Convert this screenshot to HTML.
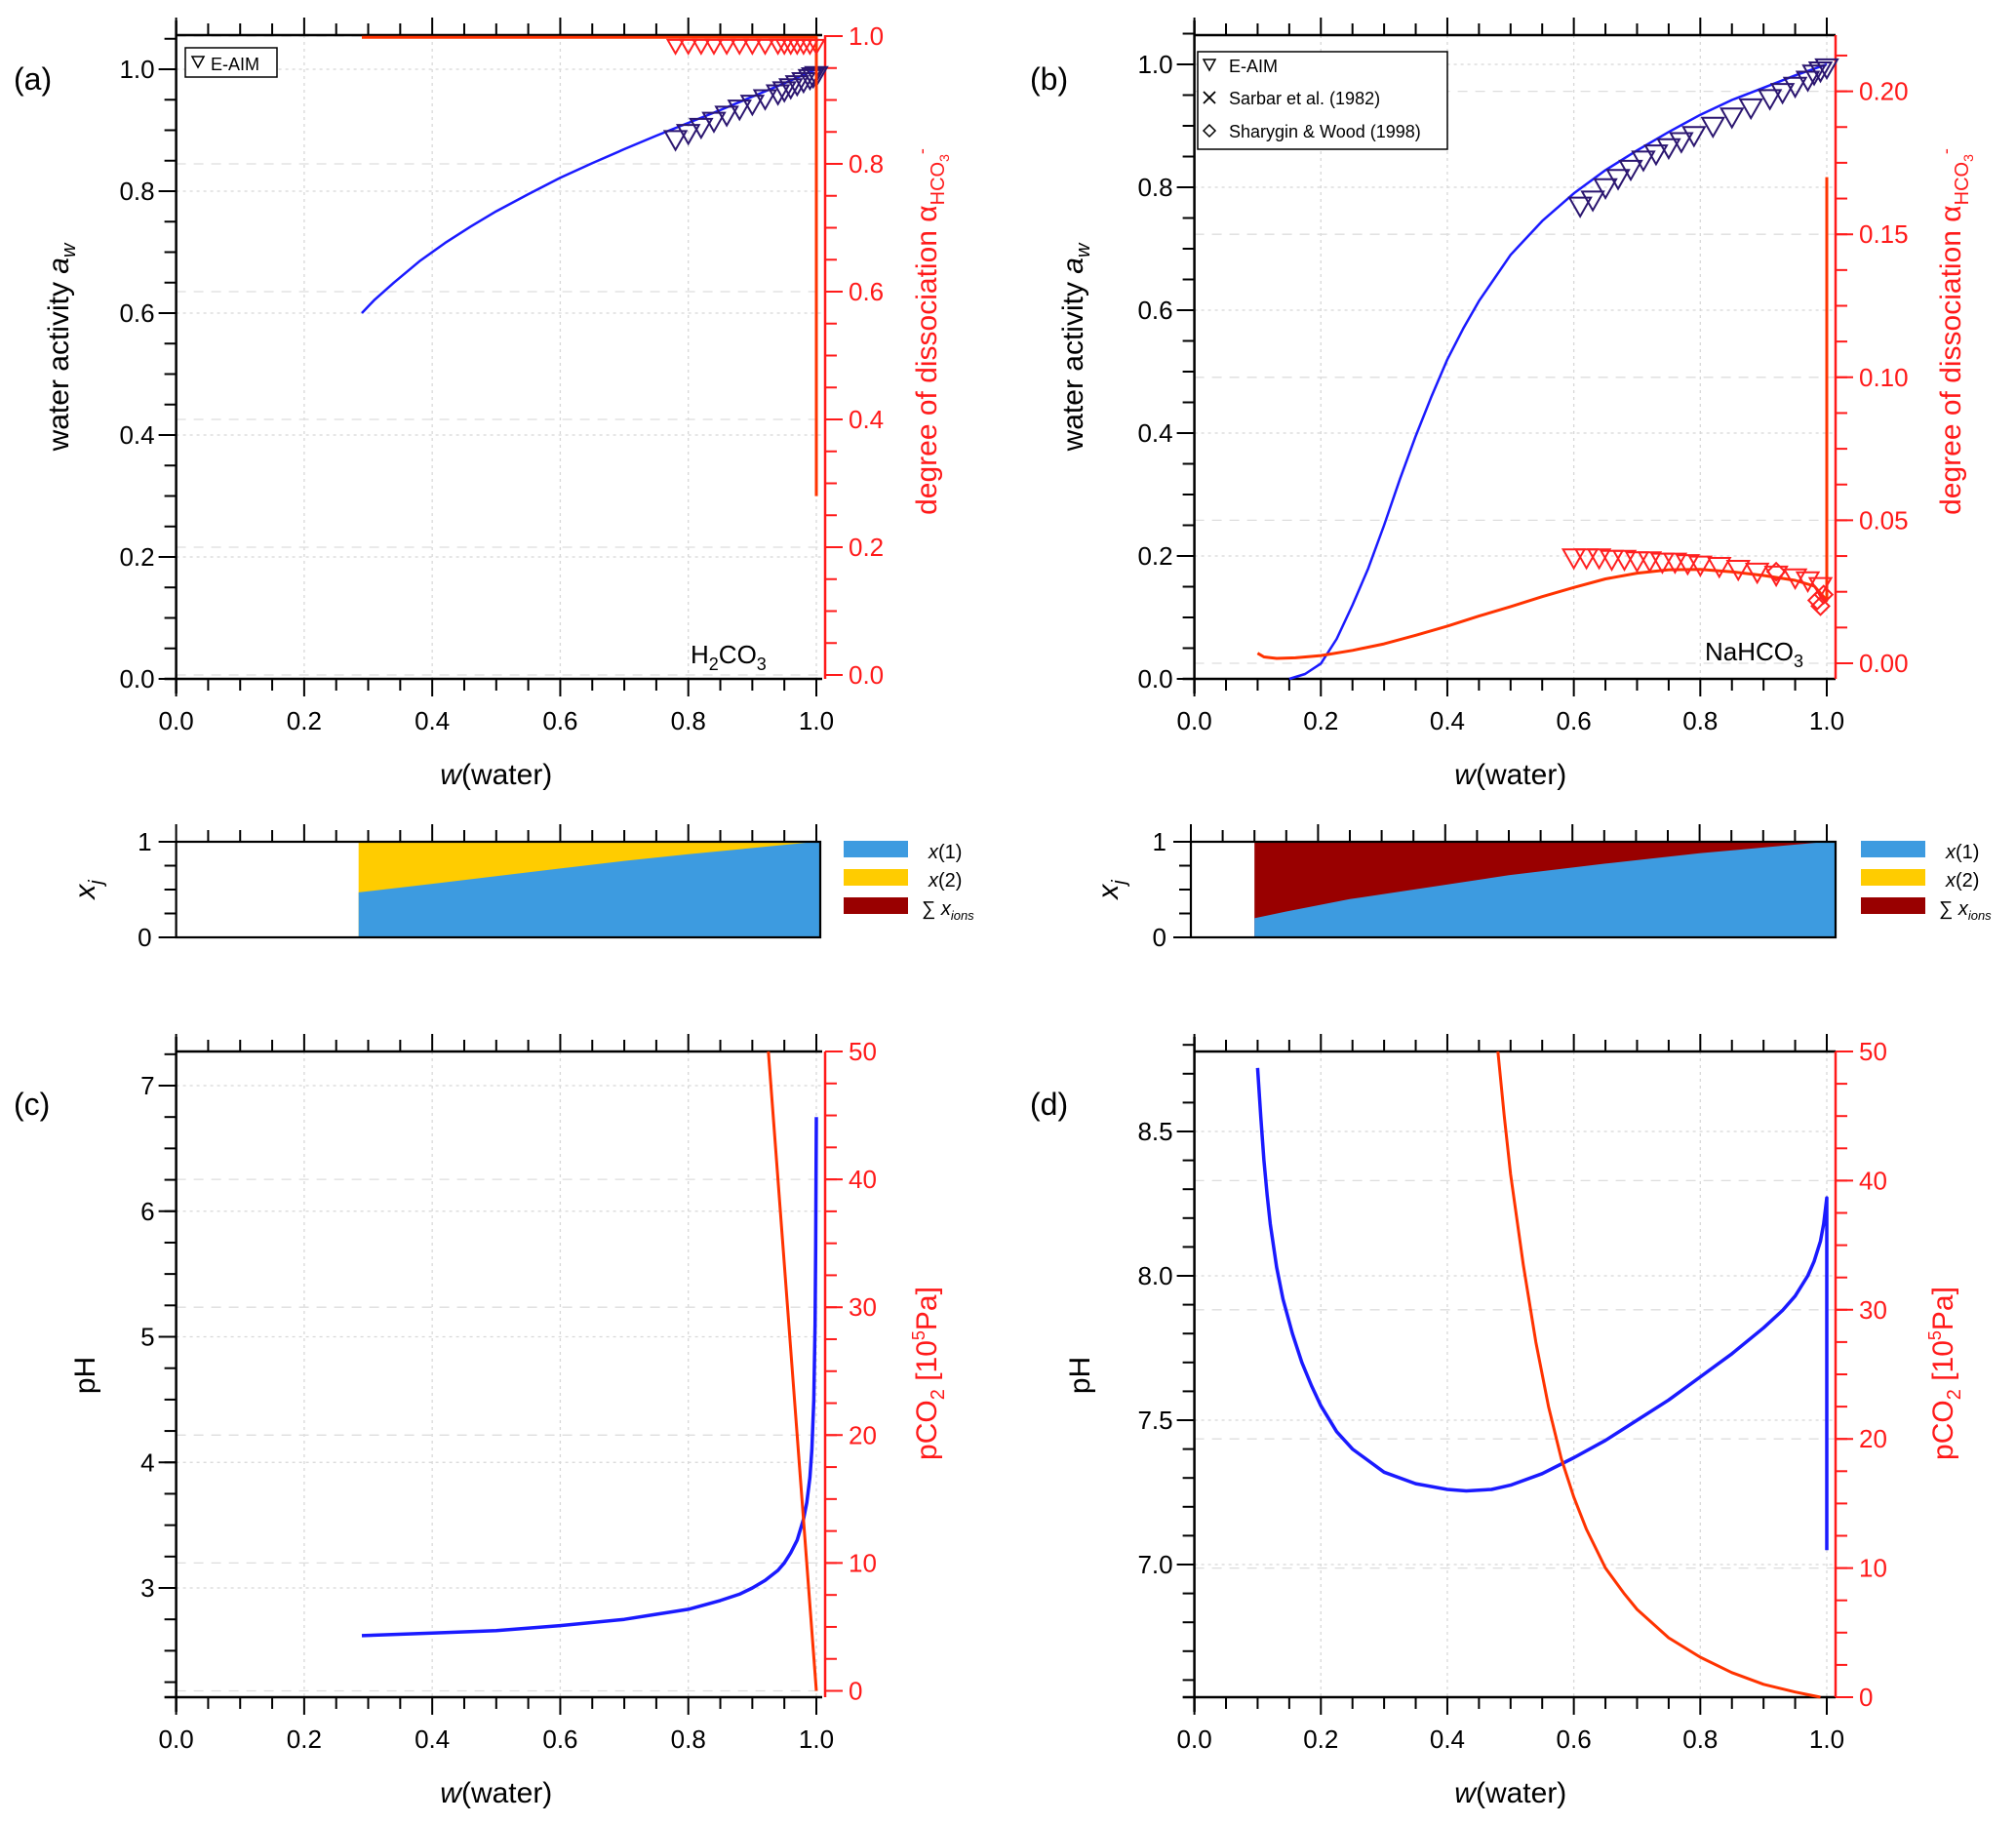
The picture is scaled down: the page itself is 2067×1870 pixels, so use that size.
<!DOCTYPE html>
<html><head><meta charset="utf-8"><style>
html,body{margin:0;padding:0;background:#fff}
svg{display:block}
text{font-family:"Liberation Sans",Arial,sans-serif}
</style></head><body>
<svg id="fig" width="2067" height="1870" viewBox="0 0 2067 1870" xmlns="http://www.w3.org/2000/svg"></svg>
<script>
// ---------- data ----------
const aW = [0.29,0.31,0.34,0.38,0.42,0.46,0.5,0.55,0.6,0.65,0.7,0.75,0.8,0.85,0.9,0.95,1.0];
const aAw = [0.60,0.622,0.65,0.685,0.715,0.742,0.767,0.795,0.822,0.846,0.869,0.891,0.912,0.933,0.955,0.977,1.0];
const aPtsW = [0.78,0.8,0.82,0.84,0.86,0.88,0.9,0.92,0.94,0.95,0.96,0.97,0.98,0.99,0.995,1.0];
const aPtsAw = [0.895,0.905,0.915,0.925,0.935,0.945,0.953,0.962,0.97,0.975,0.98,0.985,0.99,0.995,0.998,1.0];
const aAlphaW = [0.29,1.0,1.0];
const aAlpha = [0.998,0.998,0.28];
const aAlphaPtsW = [0.78,0.8,0.82,0.84,0.86,0.88,0.9,0.92,0.94,0.95,0.96,0.97,0.98,0.99,1.0];
const aAlphaPts = [0.985,0.985,0.985,0.985,0.985,0.985,0.985,0.985,0.985,0.985,0.985,0.985,0.985,0.985,0.985];

const bW = [0.15,0.175,0.2,0.225,0.25,0.275,0.3,0.325,0.35,0.375,0.4,0.425,0.45,0.5,0.55,0.6,0.65,0.7,0.75,0.8,0.85,0.9,0.95,1.0];
const bAw = [0.0,0.008,0.025,0.065,0.12,0.18,0.25,0.325,0.395,0.46,0.52,0.57,0.615,0.69,0.745,0.79,0.828,0.86,0.89,0.918,0.942,0.962,0.982,1.0];
const bPtsW = [0.61,0.63,0.65,0.67,0.69,0.71,0.73,0.75,0.77,0.79,0.82,0.85,0.88,0.91,0.93,0.95,0.97,0.98,0.99,1.0];
const bPtsAw = [0.77,0.78,0.80,0.815,0.83,0.845,0.855,0.865,0.875,0.885,0.90,0.915,0.93,0.945,0.955,0.965,0.975,0.985,0.99,0.995];
const bAlphaW = [0.1,0.11,0.13,0.16,0.2,0.25,0.3,0.35,0.4,0.45,0.5,0.55,0.6,0.65,0.7,0.75,0.8,0.85,0.9,0.95,0.98,1.0,1.0];
const bAlpha = [0.0035,0.0022,0.0017,0.0019,0.0027,0.0045,0.0068,0.0098,0.013,0.0165,0.0198,0.0233,0.0265,0.0295,0.0315,0.0327,0.0328,0.032,0.0307,0.029,0.027,0.022,0.17];
const bAlphaPtsW = [0.6,0.62,0.64,0.66,0.68,0.7,0.72,0.74,0.76,0.78,0.8,0.83,0.86,0.89,0.92,0.95,0.97,0.99];
const bAlphaPts = [0.037,0.037,0.037,0.0365,0.0365,0.036,0.036,0.0355,0.0355,0.035,0.0345,0.034,0.033,0.032,0.031,0.03,0.029,0.027];
const bDiaW = [0.92,0.985,0.99,0.995];
const bDiaAlpha = [0.032,0.022,0.02,0.024];

const sAW = [0.285,0.4,0.5,0.6,0.7,0.8,0.9,1.0];
const sAx1 = [0.47,0.56,0.64,0.72,0.8,0.87,0.935,1.0];
const sBW = [0.1,0.15,0.25,0.4,0.5,0.65,0.8,0.9,1.0];
const sBx1 = [0.2,0.27,0.4,0.55,0.65,0.77,0.88,0.94,1.0];

const cW = [0.29,0.4,0.5,0.6,0.7,0.75,0.8,0.85,0.88,0.9,0.92,0.94,0.95,0.96,0.97,0.98,0.985,0.99,0.993,0.996,0.998,0.999,1.0];
const cPH = [2.62,2.64,2.66,2.70,2.75,2.79,2.83,2.9,2.95,3.0,3.06,3.14,3.2,3.28,3.38,3.55,3.68,3.88,4.1,4.5,5.1,5.7,6.75];
const cPW = [0.925,1.0];
const cP = [50,0];

const dW = [0.1,0.105,0.11,0.115,0.12,0.13,0.14,0.155,0.17,0.185,0.2,0.225,0.25,0.3,0.35,0.4,0.43,0.47,0.5,0.55,0.6,0.65,0.7,0.75,0.8,0.85,0.9,0.93,0.95,0.97,0.98,0.99,0.995,1.0,1.0];
const dPH = [8.72,8.55,8.4,8.28,8.18,8.03,7.92,7.8,7.7,7.62,7.55,7.46,7.4,7.32,7.28,7.26,7.255,7.26,7.275,7.315,7.37,7.43,7.5,7.57,7.65,7.73,7.82,7.88,7.93,8.0,8.05,8.12,8.18,8.27,7.05];
const dPW = [0.48,0.49,0.5,0.52,0.54,0.56,0.58,0.6,0.62,0.65,0.68,0.7,0.75,0.8,0.85,0.9,0.95,0.99];
const dP = [50,45,40.5,33.5,27.5,22.5,18.5,15.5,13,10,8,6.8,4.6,3.1,1.9,1.0,0.4,0];

// ---------- helpers ----------
const svg = document.getElementById('fig');
const NS = 'http://www.w3.org/2000/svg';
function el(tag, attrs, parent){const e=document.createElementNS(NS,tag);for(const k in attrs)e.setAttribute(k,attrs[k]);(parent||svg).appendChild(e);return e;}
function lin(d0,d1,r0,r1){return v=>r0+(v-d0)*(r1-r0)/(d1-d0);}
function fmt(v,dec){return v.toFixed(dec);}
function txt(x,y,s,size,anchor,color,parent){const t=el('text',{x:x,y:y,'font-size':size,'text-anchor':anchor||'middle',fill:color||'#000'},parent);t.textContent=s;return t;}

function drawPanel(p){
  const g=el('g',{});
  
  
  const X=lin(0,1,p.x0,p.x1);
  const L=p.L, R=p.R;
  for(let v=0;v<=1.0001;v+=0.2){el('line',{x1:X(v),x2:X(v),y1:p.top,y2:p.bot,stroke:'#d8d8d8','stroke-width':1.3,'stroke-dasharray':'3,4'},g);}
  p.lMaj.forEach(v=>el('line',{x1:p.left,x2:p.right,y1:L(v),y2:L(v),stroke:'#d8d8d8','stroke-width':1.3,'stroke-dasharray':'3,4'},g));
  if(R) p.rMaj.forEach(v=>el('line',{x1:p.left,x2:p.right,y1:R(v),y2:R(v),stroke:'#dedede','stroke-width':1.3,'stroke-dasharray':'10,8'},g));
  el('line',{x1:p.left,x2:p.right,y1:p.top,y2:p.top,stroke:'#000','stroke-width':2.5},g);
  el('line',{x1:p.left-12,x2:p.right,y1:p.bot,y2:p.bot,stroke:'#000','stroke-width':2.5},g);
  el('line',{x1:p.left,x2:p.left,y1:p.top-15,y2:p.bot+15,stroke:'#000','stroke-width':2.5},g);
  for(let i=0;i<=20;i++){const v=i*0.05,x=X(v),maj=i%4==0;
    el('line',{x1:x,x2:x,y1:p.bot,y2:p.bot+(maj?18:12),stroke:'#000','stroke-width':2},g);
    el('line',{x1:x,x2:x,y1:p.top,y2:p.top-(maj?18:12),stroke:'#000','stroke-width':2},g);
    if(maj&&p.xlabels) txt(x,p.bot+52,fmt(v,1),26,'middle','#000',g);}
  p.lMin.forEach(v=>el('line',{x1:p.left,x2:p.left-12,y1:L(v),y2:L(v),stroke:'#000','stroke-width':2},g));
  p.lMaj.forEach(v=>{el('line',{x1:p.left,x2:p.left-18,y1:L(v),y2:L(v),stroke:'#000','stroke-width':2},g);txt(p.left-22,L(v)+9,fmt(v,p.lDec),26,'end','#000',g);});
  if(R){
    el('line',{x1:p.rx,x2:p.rx,y1:p.top,y2:p.bot,stroke:'#ff1a1a','stroke-width':2.5},g);
    p.rMin.forEach(v=>el('line',{x1:p.rx,x2:p.rx+12,y1:R(v),y2:R(v),stroke:'#ff1a1a','stroke-width':2},g));
    p.rMaj.forEach(v=>{el('line',{x1:p.rx,x2:p.rx+18,y1:R(v),y2:R(v),stroke:'#ff1a1a','stroke-width':2},g);txt(p.rx+24,R(v)+9,fmt(v,p.rDec),26,'start','#ff1a1a',g);});
  } else {
    el('line',{x1:p.right,x2:p.right,y1:p.top,y2:p.bot,stroke:'#000','stroke-width':2.5},g);
  }
  if(p.xlabels){const t=el('text',{x:(p.x0+p.x1)/2,y:p.bot+108,'font-size':30,'text-anchor':'middle'},g);t.innerHTML='<tspan font-style="italic">w</tspan>(water)';
    }
  return {g,X};
}
function range(a,b,s){const r=[];for(let v=a;v<=b+1e-9;v+=s)r.push(+v.toFixed(6));return r;}
function polyline(xs,ys,X,Y,color,w,parent,name){
  const pts=xs.map((x,i)=>X(x).toFixed(1)+','+Y(ys[i]).toFixed(1)).join(' ');
  const l=el('polyline',{points:pts,fill:'none',stroke:color,'stroke-width':w,'stroke-linejoin':'round'},parent);
  return l;
}
function tri(x,y,s,color,parent,name){
  const t=el('path',{d:`M${x-s},${y-s*0.75} L${x+s},${y-s*0.75} L${x},${y+s*1.0} Z`,fill:'none',stroke:color,'stroke-width':2},parent);
  
}
function rotTitle(x,y,html,color,name){
  const t=el('text',{x:0,y:0,'font-size':30,'text-anchor':'middle',fill:color,transform:`translate(${x},${y}) rotate(-90)`});
  t.innerHTML=html;return t;
}

// ---------- panel a ----------
(function(){
  const L=lin(0,1,696,71), R=lin(0,1,692,37);
  const p={name:'panel-a',x0:180.6,x1:837,left:180.6,right:843,top:36,bot:696,L,R,rx:846,
    lMaj:range(0,1,0.2),lMin:range(0,1.05,0.05),lDec:1,rMaj:range(0,1,0.2),rMin:range(0,1,0.05),rDec:1,xlabels:true};
  const {g,X}=drawPanel(p);
  polyline(aW,aAw,X,L,'#1a1aff',2.5,g,'aw-curve');
  aPtsW.forEach((w,i)=>tri(X(w),L(aPtsAw[i])+6,11,'#2b1670',g,'e-aim-point'));
  polyline(aAlphaW,aAlpha,X,R,'#ff3300',3,g,'alpha-curve');
  aAlphaPtsW.forEach((w,i)=>tri(X(w),R(aAlphaPts[i]),8,'#ff2020',g,'alpha-e-aim-point'));
  const lg=el('g',{});
  el('rect',{x:190,y:49,width:94,height:30,fill:'#fff',stroke:'#000','stroke-width':1.5},lg);
  el('path',{d:'M197,58 L209,58 L203,69 Z',fill:'none',stroke:'#000','stroke-width':1.5},lg);
  txt(216,72,'E-AIM',18,'start','#000',lg);
  const t=el('text',{x:708,y:680,'font-size':26,'text-anchor':'start'},g);t.innerHTML='H<tspan font-size="18" dy="7">2</tspan><tspan dy="-7">CO</tspan><tspan font-size="18" dy="7">3</tspan>';
  txt(14,92,'(a)',32,'start');
  rotTitle(70,356,'water activity <tspan font-style="italic">a</tspan><tspan font-style="italic" font-size="20" dy="7">w</tspan>','#000','y-axis-title');
  rotTitle(960,340,'degree of dissociation  α<tspan font-size="20" dy="8">HCO</tspan><tspan font-size="14" dy="5">3</tspan><tspan font-size="18" dy="-22">-</tspan>','#ff1a1a','y2-axis-title');
})();

// ---------- panel b ----------
(function(){
  const L=lin(0,1,696,66), R=lin(0,0.2,680,93.6);
  const p={name:'panel-b',x0:1224.6,x1:1873,left:1224.6,right:1882,top:36,bot:696,L,R,rx:1882,
    lMaj:range(0,1,0.2),lMin:range(0,1.05,0.05),lDec:1,rMaj:range(0,0.2,0.05),rMin:range(0,0.2125,0.0125),rDec:2,xlabels:true};
  const {g,X}=drawPanel(p);
  polyline(bW,bAw,X,L,'#1a1aff',2.5,g,'aw-curve');
  bPtsW.forEach((w,i)=>tri(X(w),L(bPtsAw[i]),11,'#2b1670',g,'e-aim-point'));
  polyline(bAlphaW,bAlpha,X,R,'#ff3300',3,g,'alpha-curve');
  bAlphaPtsW.forEach((w,i)=>tri(X(w),R(bAlphaPts[i]),11,'#ff2020',g,'alpha-e-aim-point'));
  bDiaW.forEach((w,i)=>{const x=X(w),y=R(bDiaAlpha[i]);const d=el('path',{d:`M${x},${y-9} L${x+9},${y} L${x},${y+9} L${x-9},${y} Z`,fill:'none',stroke:'#ff2020','stroke-width':2},g);
    });
  const lg=el('g',{});
  el('rect',{x:1228,y:53,width:256,height:100,fill:'#fff',stroke:'#000','stroke-width':1.5},lg);
  el('path',{d:'M1234,61 L1246,61 L1240,72 Z',fill:'none',stroke:'#000','stroke-width':1.5},lg);
  txt(1260,74,'E-AIM',18,'start','#000',lg);
  el('path',{d:'M1234,94 L1246,106 M1246,94 L1234,106',stroke:'#000','stroke-width':1.8},lg);
  txt(1260,107,'Sarbar et al. (1982)',18,'start','#000',lg);
  el('path',{d:'M1240,128 L1246,134 L1240,140 L1234,134 Z',fill:'none',stroke:'#000','stroke-width':1.5},lg);
  txt(1260,141,'Sharygin & Wood (1998)',18,'start','#000',lg);
  const t=el('text',{x:1748,y:677,'font-size':26,'text-anchor':'start'},g);t.innerHTML='NaHCO<tspan font-size="18" dy="7">3</tspan>';
  txt(1056,92,'(b)',32,'start');
  rotTitle(1110,356,'water activity <tspan font-style="italic">a</tspan><tspan font-style="italic" font-size="20" dy="7">w</tspan>','#000','y-axis-title');
  rotTitle(2010,340,'degree of dissociation  α<tspan font-size="20" dy="8">HCO</tspan><tspan font-size="14" dy="5">3</tspan><tspan font-size="18" dy="-22">-</tspan>','#ff1a1a','y2-axis-title');
})();

// ---------- small stacked panels ----------
function smallPanel(name,x0,x1,right,ws,x1s,topColor,lx,labelX){
  const g=el('g',{});
  const X=lin(0,1,x0,x1), Y=lin(0,1,961,863);
  const top=863,bot=961;
  const first=X(ws[0]);
  el('rect',{x:first,y:top,width:right-first,height:bot-top,fill:topColor},g);
  let pts=ws.map((w,i)=>X(w).toFixed(1)+','+Y(x1s[i]).toFixed(1)).join(' ');
  pts+=' '+right+','+Y(1)+' '+right+','+bot+' '+first.toFixed(1)+','+bot;
  const b=el('polygon',{points:pts,fill:'#3d9be0'},g);
  
  el('rect',{x:x0,y:top,width:right-x0,height:bot-top,fill:'none',stroke:'#000','stroke-width':2.2},g);
  for(let i=0;i<=20;i++){const x=X(i*0.05),maj=i%4==0;el('line',{x1:x,x2:x,y1:top,y2:top-(maj?18:12),stroke:'#000','stroke-width':2},g);}
  [0,0.25,0.5,0.75,1].forEach(v=>el('line',{x1:x0,x2:x0-((v==0||v==1)?18:12),y1:Y(v),y2:Y(v),stroke:'#000','stroke-width':2},g));
  txt(x0-25,Y(1)+9,'1',26,'end','#000',g);txt(x0-25,Y(0)+9,'0',26,'end','#000',g);
  const t=el('text',{x:0,y:0,'font-size':30,'text-anchor':'middle',transform:`translate(${labelX},912) rotate(-90)`},g);
  t.innerHTML='<tspan font-style="italic">x</tspan><tspan font-style="italic" font-size="20" dy="8">j</tspan>';
  const lg=el('g',{});
  const cols=['#3d9be0','#ffcc00','#990000'];
  cols.forEach((c,i)=>el('rect',{x:lx,y:862+i*29,width:66,height:17,fill:c},lg));
  const t1=el('text',{x:lx+87,y:880,'font-size':20},lg);t1.innerHTML='<tspan font-style="italic">x</tspan>(1)';
  const t2=el('text',{x:lx+87,y:909,'font-size':20},lg);t2.innerHTML='<tspan font-style="italic">x</tspan>(2)';
  const t3=el('text',{x:lx+80,y:938,'font-size':20},lg);t3.innerHTML='∑ <tspan font-style="italic">x</tspan><tspan font-style="italic" font-size="13" dy="5">ions</tspan>';
}
smallPanel('panel-a-fractions',180.6,837,841,sAW,sAx1,'#ffcc00',865,97);
smallPanel('panel-b-fractions',1221,1873,1882,sBW,sBx1,'#990000',1908,1146);

// ---------- panel c ----------
(function(){
  const L=lin(3,7,1628,1113), R=lin(0,50,1733.5,1078);
  const p={name:'panel-c',x0:180.6,x1:837,left:180.6,right:843,top:1078,bot:1740,L,R,rx:846,
    lMaj:[3,4,5,6,7],lMin:range(2.25,7.25,0.25),lDec:0,rMaj:range(0,50,10),rMin:range(0,50,2.5),rDec:0,xlabels:true};
  const {g,X}=drawPanel(p);
  polyline(cW,cPH,X,L,'#1a1aff',3.5,g,'ph-curve');
  polyline(cPW,cP,X,R,'#ff3300',3,g,'pco2-curve');
  txt(14,1143,'(c)',32,'start');
  rotTitle(97,1410,'pH','#000','y-axis-title');
  rotTitle(960,1408,'pCO<tspan font-size="20" dy="8">2</tspan><tspan dy="-8"> [10</tspan><tspan font-size="18" dy="-12">5</tspan><tspan dy="12">Pa]</tspan>','#ff1a1a','y2-axis-title');
})();

// ---------- panel d ----------
(function(){
  const L=lin(7,8.5,1604,1160), R=lin(0,50,1740,1078);
  const p={name:'panel-d',x0:1224.6,x1:1873,left:1224.6,right:1882,top:1078,bot:1740,L,R,rx:1882,
    lMaj:[7.0,7.5,8.0,8.5],lMin:range(6.6,8.8,0.1),lDec:1,rMaj:range(0,50,10),rMin:range(0,50,2.5),rDec:0,xlabels:true};
  const {g,X}=drawPanel(p);
  polyline(dW,dPH,X,L,'#1a1aff',3.5,g,'ph-curve');
  polyline(dPW,dP,X,R,'#ff3300',3,g,'pco2-curve');
  txt(1056,1143,'(d)',32,'start');
  rotTitle(1117,1410,'pH','#000','y-axis-title');
  rotTitle(2002,1408,'pCO<tspan font-size="20" dy="8">2</tspan><tspan dy="-8"> [10</tspan><tspan font-size="18" dy="-12">5</tspan><tspan dy="12">Pa]</tspan>','#ff1a1a','y2-axis-title');
})();
</script>
</body></html>
